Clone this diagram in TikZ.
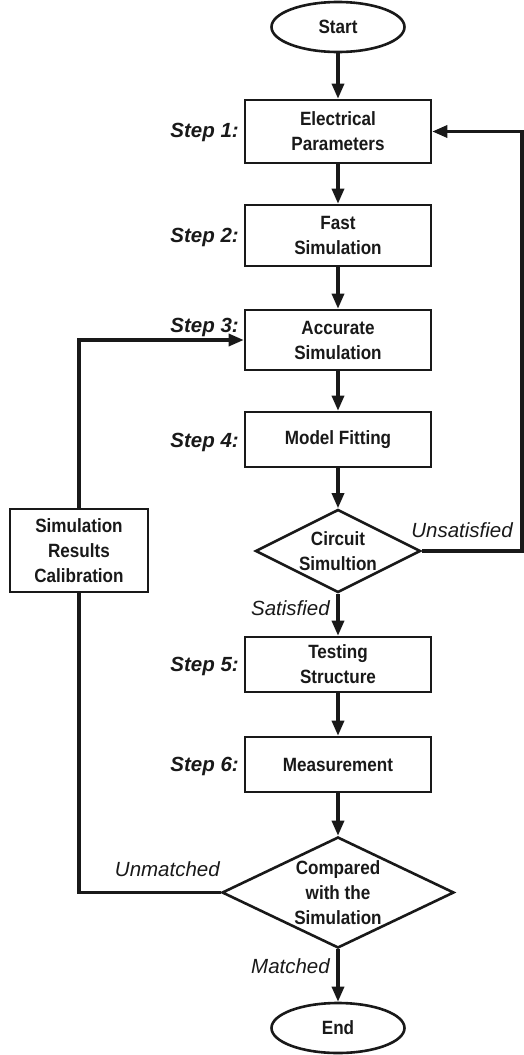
\documentclass[tikz,border=0pt]{standalone}
\usepackage{fontspec}
\setmainfont{Liberation Sans}
\newfontfamily\mycondfont[FakeStretch=0.89]{Liberation Sans}
\usetikzlibrary{shapes.geometric,arrows.meta}
\definecolor{ink}{gray}{0.1}
\newcommand\myboxfont{\mycondfont\fontsize{19.2}{25}\selectfont\bfseries}
\newcommand\mystepfont{\fontsize{20.5}{24}\selectfont\bfseries\itshape}
\newcommand\mylabfont{\fontsize{20.5}{24}\selectfont\itshape}
\begin{document}
\begin{tikzpicture}[x=1pt,y=-1pt,
  every node/.style={text=ink},
  box/.style={draw=ink,line width=2.6pt,rectangle,minimum width=186pt,minimum height=#1,inner sep=0pt,align=center,font=\myboxfont},
  box/.default=55pt,
  term/.style={draw=ink,line width=2.6pt,ellipse,minimum width=133pt,minimum height=50pt,inner sep=0pt,font=\myboxfont},
  decide/.style={draw=ink,line width=2.6pt,diamond,aspect=2,inner sep=0pt,align=center,font=\myboxfont},
  steplab/.style={anchor=base east,font=\mystepfont,inner sep=0pt},
  lab/.style={anchor=base east,font=\mylabfont,inner sep=0pt},
  conn/.style={draw=ink,line width=3.2pt,line join=miter},
  arr/.style={conn,-{Triangle[length=15pt,width=12pt]}}
]
\useasboundingbox (0,0) rectangle (523,1055);

% main column
\node[term] (start) at (338,27) {Start};
\node[box=63pt] (b1) at (338,131.5) {Electrical\\Parameters};
\node[box=61pt] (b2) at (338,235.5) {Fast\\Simulation};
\node[box=60pt] (b3) at (338,340) {Accurate\\Simulation};
\node[box=55pt] (b4) at (338,439.5) {Model Fitting};
\node[decide,minimum width=165pt,minimum height=83pt] (d1) at (338,551) {Circuit\\Simultion};
\node[box=55pt] (b5) at (338,664.5) {Testing\\Structure};
\node[box=55pt] (b6) at (338,764.5) {Measurement};
\node[decide,minimum width=232pt,minimum height=111pt] (d2) at (338,892.5) {Compared\\with the\\Simulation};
\node[term] (end) at (338,1028) {End};

% left calibration box
\node[box=83pt,minimum width=138pt] (cal) at (79,550.5) {Simulation\\Results\\Calibration};

% step labels
\node[steplab] (s1) at (239,137) {Step 1:};
\node[steplab] (s2) at (239,242) {Step 2:};
\node[steplab] (s3) at (239,332) {Step 3:};
\node[steplab] (s4) at (239,447) {Step 4:};
\node[steplab] (s5) at (239,671) {Step 5:};
\node[steplab] (s6) at (239,771) {Step 6:};

% branch labels
\node[lab] (lunsat) at (513,537) {Unsatisfied};
\node[lab] (lsat) at (330,615) {Satisfied};
\node[lab] (lmatch) at (330,973) {Matched};
\node[lab] (lunmatch) at (220,876) {Unmatched};

% connectors
\draw[arr] (start) -- (b1);
\draw[arr] (b1) -- (b2);
\draw[arr] (b2) -- (b3);
\draw[arr] (b3) -- (b4);
\draw[arr] (b4) -- (d1);
\draw[arr] (d1) -- (b5);
\draw[arr] (b5) -- (b6);
\draw[arr] (b6) -- (d2);
\draw[arr] (d2) -- (end);

\coordinate (rc) at (522,551);
\draw[arr] (d1.east) -- (rc) |- (b1.east);

\coordinate (lc) at (79,892.5);
\draw[conn] (d2.west) -- (lc) -- (cal.south);
\draw[arr] (cal.north) |- (b3.west);
\end{tikzpicture}
\end{document}
